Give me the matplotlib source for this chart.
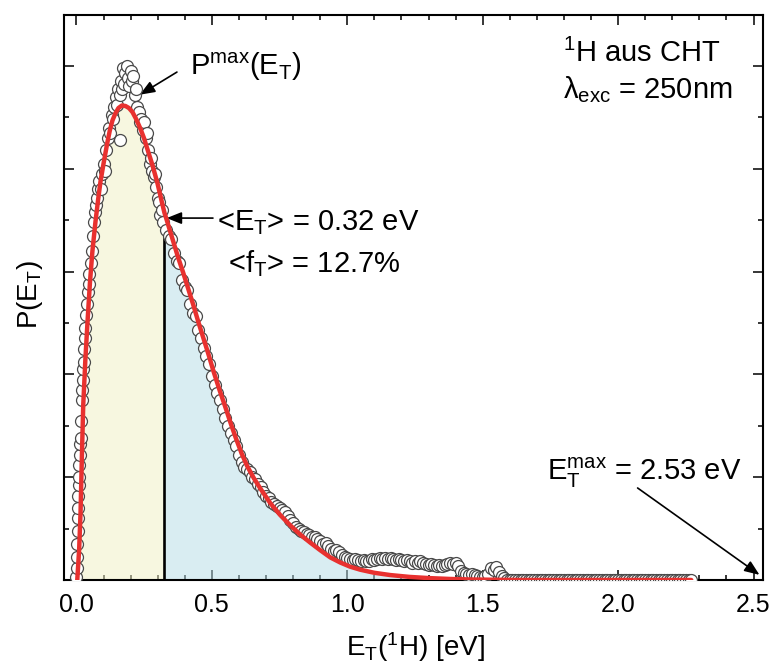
import matplotlib
matplotlib.use("Agg")
import matplotlib.pyplot as plt
from matplotlib.ticker import MultipleLocator, FormatStrFormatter
import numpy as np

plt.rcParams['font.family'] = ['Liberation Sans', 'DejaVu Sans']
plt.rcParams['mathtext.fontset'] = 'custom'
plt.rcParams['mathtext.rm'] = 'Liberation Sans'
plt.rcParams['mathtext.it'] = 'Liberation Sans:italic'
plt.rcParams['mathtext.bf'] = 'Liberation Sans:bold'

# ---------------- data ----------------
# measured distribution (open circles)
rise_E = [0.000, 0.001, 0.002, 0.003, 0.004, 0.005, 0.006, 0.007, 0.008, 0.009,
          0.010, 0.012, 0.013, 0.015, 0.017, 0.019, 0.021, 0.023, 0.025, 0.027,
          0.029, 0.031, 0.033, 0.036, 0.039, 0.042, 0.045, 0.048, 0.052, 0.056,
          0.060, 0.064, 0.068, 0.072, 0.076, 0.080, 0.085, 0.090, 0.095, 0.100,
          0.105, 0.110, 0.115, 0.120, 0.125, 0.130, 0.135]
rise_P = [0.03, 0.12, 0.22, 0.35, 0.48, 0.60, 0.70, 0.82, 0.92, 1.00,
          1.12, 1.22, 1.32, 1.38, 1.55, 1.75, 1.85, 1.95, 2.05, 2.12,
          2.25, 2.35, 2.45, 2.58, 2.68, 2.80, 2.88, 2.98, 3.08, 3.20,
          3.35, 3.48, 3.58, 3.65, 3.72, 3.80, 3.88, 3.80, 3.95, 4.05,
          3.98, 4.18, 4.30, 4.40, 4.35, 4.52, 4.48]

peak_E = [0.140, 0.145, 0.150, 0.155, 0.160, 0.162, 0.165, 0.170, 0.173, 0.177,
          0.180, 0.185, 0.190, 0.195, 0.200, 0.205, 0.210, 0.215, 0.220, 0.225,
          0.230, 0.235, 0.240, 0.245, 0.250, 0.255, 0.260, 0.265, 0.270, 0.275,
          0.280, 0.285, 0.290, 0.295, 0.300, 0.305, 0.310, 0.315, 0.320]
peak_P = [4.60, 4.70, 4.62, 4.78, 4.72, 4.28, 4.85, 4.78, 4.98, 4.82,
          4.93, 5.00, 4.88, 4.80, 4.95, 4.85, 4.90, 4.72, 4.78, 4.60,
          4.55, 4.45, 4.48, 4.38, 4.45, 4.30, 4.35, 4.18, 4.05, 4.10,
          3.98, 3.92, 3.95, 3.82, 3.72, 3.68, 3.55, 3.60, 3.48]

fall_E = [0.330, 0.340, 0.350, 0.360, 0.370, 0.380, 0.390, 0.400, 0.410, 0.420,
          0.430, 0.440, 0.450, 0.460, 0.470, 0.480, 0.490, 0.500, 0.510, 0.520,
          0.530, 0.540, 0.550, 0.560, 0.570, 0.580, 0.590, 0.600, 0.610, 0.620]
fall_P = [3.40, 3.35, 3.32, 3.18, 3.10, 3.08, 2.92, 2.85, 2.82, 2.68,
          2.60, 2.57, 2.43, 2.35, 2.26, 2.18, 2.10, 1.98, 1.90, 1.82,
          1.75, 1.66, 1.58, 1.50, 1.43, 1.36, 1.30, 1.22, 1.15, 1.10]

slope_E = [0.63, 0.64, 0.65, 0.66, 0.67, 0.68, 0.69, 0.70, 0.71, 0.72,
           0.73, 0.74, 0.75, 0.76, 0.77, 0.78, 0.79, 0.80, 0.81, 0.82,
           0.83, 0.84, 0.85, 0.86, 0.87, 0.88, 0.89, 0.90, 0.91, 0.92,
           0.93, 0.94, 0.95, 0.96, 0.97, 0.98, 0.99, 1.00, 1.01, 1.02,
           1.03, 1.04, 1.05, 1.06, 1.07, 1.08, 1.09, 1.10, 1.11, 1.12,
           1.13, 1.14, 1.15, 1.16, 1.17, 1.18, 1.19, 1.20, 1.21, 1.22,
           1.23, 1.24, 1.25, 1.26, 1.27, 1.28, 1.29, 1.30, 1.31, 1.32,
           1.33, 1.34, 1.35, 1.36, 1.37, 1.38, 1.39, 1.40, 1.41, 1.42,
           1.43, 1.44, 1.45, 1.46, 1.47, 1.48, 1.49, 1.50, 1.51, 1.52,
           1.53, 1.54, 1.55, 1.56, 1.57, 1.58]
slope_P = [1.08, 1.05, 1.00, 0.98, 0.93, 0.90, 0.86, 0.82, 0.80, 0.76,
           0.74, 0.72, 0.70, 0.68, 0.66, 0.62, 0.58, 0.55, 0.52, 0.50,
           0.48, 0.47, 0.45, 0.44, 0.42, 0.42, 0.40, 0.38, 0.35, 0.36,
           0.33, 0.30, 0.28, 0.29, 0.27, 0.24, 0.22, 0.21, 0.20, 0.19,
           0.20, 0.19, 0.18, 0.19, 0.18, 0.18, 0.20, 0.19, 0.20, 0.21,
           0.20, 0.21, 0.20, 0.21, 0.20, 0.19, 0.20, 0.19, 0.18, 0.19,
           0.18, 0.17, 0.18, 0.17, 0.18, 0.17, 0.16, 0.15, 0.16, 0.15,
           0.14, 0.15, 0.14, 0.15, 0.16, 0.17, 0.16, 0.17, 0.14, 0.09,
           0.07, 0.06, 0.05, 0.06, 0.05, 0.04, 0.03, 0.03, 0.04, 0.06,
           0.12, 0.10, 0.13, 0.08, 0.04, 0.02]

tail_E = [1.59, 1.60, 1.61, 1.62, 1.63, 1.64, 1.65, 1.66, 1.67, 1.68,
          1.69, 1.70, 1.71, 1.72, 1.73, 1.74, 1.75, 1.76, 1.77, 1.78,
          1.79, 1.80, 1.81, 1.82, 1.83, 1.84, 1.85, 1.86, 1.87, 1.88,
          1.89, 1.90, 1.91, 1.92, 1.93, 1.94, 1.95, 1.96, 1.97, 1.98,
          1.99, 2.00, 2.01, 2.02, 2.03, 2.04, 2.05, 2.06, 2.07, 2.08,
          2.09, 2.10, 2.11, 2.12, 2.13, 2.14, 2.15, 2.16, 2.17, 2.18,
          2.19, 2.20, 2.21, 2.22, 2.23, 2.24, 2.25, 2.26, 2.27]
tail_P = [0.0] * len(tail_E)

# fitted distribution (red line)
fit_E = [0.003, 0.010, 0.015, 0.020, 0.025, 0.033, 0.041, 0.050, 0.059, 0.070,
         0.080, 0.089, 0.100, 0.113, 0.123, 0.133, 0.144, 0.155, 0.168, 0.181,
         0.194, 0.207, 0.221, 0.236, 0.249, 0.262, 0.280, 0.299, 0.315, 0.325,
         0.330, 0.345, 0.360, 0.375, 0.394, 0.413, 0.432, 0.450, 0.469, 0.488,
         0.506, 0.528, 0.550, 0.570, 0.590, 0.610, 0.630, 0.655, 0.679, 0.715,
         0.753, 0.790, 0.827, 0.865, 0.900, 0.937, 0.974, 1.010, 1.048, 1.100,
         1.159, 1.230, 1.306, 1.380, 1.454, 1.550, 1.640, 1.800, 2.000, 2.270]
fit_P = [0.00, 0.30, 0.65, 1.20, 1.70, 2.15, 2.52, 2.90, 3.20, 3.48,
         3.70, 3.88, 4.05, 4.24, 4.37, 4.47, 4.54, 4.59, 4.615, 4.61,
         4.59, 4.55, 4.48, 4.39, 4.30, 4.19, 4.04, 3.86, 3.68, 3.57,
         3.53, 3.40, 3.27, 3.14, 2.99, 2.83, 2.67, 2.51, 2.35, 2.19,
         2.03, 1.85, 1.68, 1.52, 1.37, 1.23, 1.11, 0.99, 0.89, 0.75,
         0.63, 0.53, 0.44, 0.36, 0.29, 0.22, 0.17, 0.13, 0.10, 0.07,
         0.048, 0.03, 0.018, 0.010, 0.005, 0.002, 0.0, 0.0, 0.0, 0.0]

E_mean = 0.325
E_mean_P = 3.55
E_max = 2.53

x_ticks = [0.0, 0.5, 1.0, 1.5, 2.0, 2.5]

# ---------------- figure ----------------
fig = plt.figure(figsize=(7.7, 6.66), dpi=100)
ax = fig.add_axes([64/770, 1-580/666, (763-64)/770, (580-14.5)/666])

data_E = rise_E + peak_E + fall_E + slope_E + tail_E
data_P = rise_P + peak_P + fall_P + slope_P + tail_P

fE = np.array(fit_E)
fP = np.array(fit_P)
ax.fill_between(fE, 0, fP, where=fE <= E_mean, color='#f1f1c3', alpha=0.5,
                lw=0, zorder=3)
ax.fill_between(fE, 0, fP, where=fE >= E_mean, color='#b5dde7', alpha=0.5,
                lw=0, zorder=3)
ax.plot([E_mean, E_mean], [0, E_mean_P], color='black', lw=1.9, zorder=3.5)

ax.plot(data_E, data_P, ls='none', marker='o', ms=8.6,
        mfc='white', mec='#4a4a4a', mew=0.9, zorder=4)
ax.plot(fit_E, fit_P, color='#e8312f', lw=3.2, zorder=5, solid_capstyle='round')

ax.set_xlim(-0.046, 2.535)
ax.set_ylim(0, 5.5)

ax.xaxis.set_major_locator(MultipleLocator(0.5))
ax.xaxis.set_minor_locator(MultipleLocator(0.1))
ax.set_xticks(x_ticks)
ax.xaxis.set_major_formatter(FormatStrFormatter('%.1f'))
ax.yaxis.set_major_locator(MultipleLocator(1.0))
ax.yaxis.set_minor_locator(MultipleLocator(0.5))
ax.tick_params(which='both', direction='in', top=True, right=True,
               width=1.1, labelsize=18, labelleft=False, pad=9)
ax.tick_params(which='major', length=7.5)
ax.tick_params(which='minor', length=3.8)
for s in ax.spines.values():
    s.set_linewidth(1.5)
    s.set_zorder(3.2)

fig.text(30/770, 1-295/666, r'$\mathrm{P(E_T)}$', rotation=90, ha='center',
         va='center', fontsize=20)
fig.text(415/770, 1-647/666, r'$\mathrm{E_T(^1H)}$ [eV]', ha='center',
         va='center', fontsize=20)

fs = 21
arrow_kw = dict(arrowstyle='-|>,head_length=0.6,head_width=0.24',
                color='black', lw=1.2, mutation_scale=15, shrinkA=0, shrinkB=0)

ax.text(0.419, 4.91, r'$\mathrm{P^{max}(E_T)}$', fontsize=fs, ha='left',
        va='baseline')
ax.annotate('', xy=(0.234, 4.72), xytext=(0.371, 4.94), arrowprops=arrow_kw)

ax.text(0.519, 3.40, '<E$_\\mathrm{T}$> = 0.32 eV', fontsize=fs, ha='left',
        va='baseline')
ax.annotate('', xy=(0.333, 3.52), xytext=(0.504, 3.52), arrowprops=arrow_kw)

ax.text(0.56, 2.99, '<f$_\\mathrm{T}$> = 12.7%', fontsize=fs, ha='left',
        va='baseline')

ax.text(1.736, 0.97, r'$\mathrm{E_T^{max}}$ = 2.53 eV', fontsize=fs,
        ha='left', va='baseline')
ax.annotate('', xy=(E_max - 0.008, 0.05), xytext=(2.072, 0.895),
            arrowprops=arrow_kw)

ax.text(1.795, 5.04, r'$\mathrm{^1H}$ aus CHT', fontsize=fs, ha='left',
        va='baseline')
ax.text(1.795, 4.69, 'λ$_\\mathrm{exc}$ = 250nm', fontsize=fs, ha='left',
        va='baseline')

fig.savefig('out.png', dpi=100)
